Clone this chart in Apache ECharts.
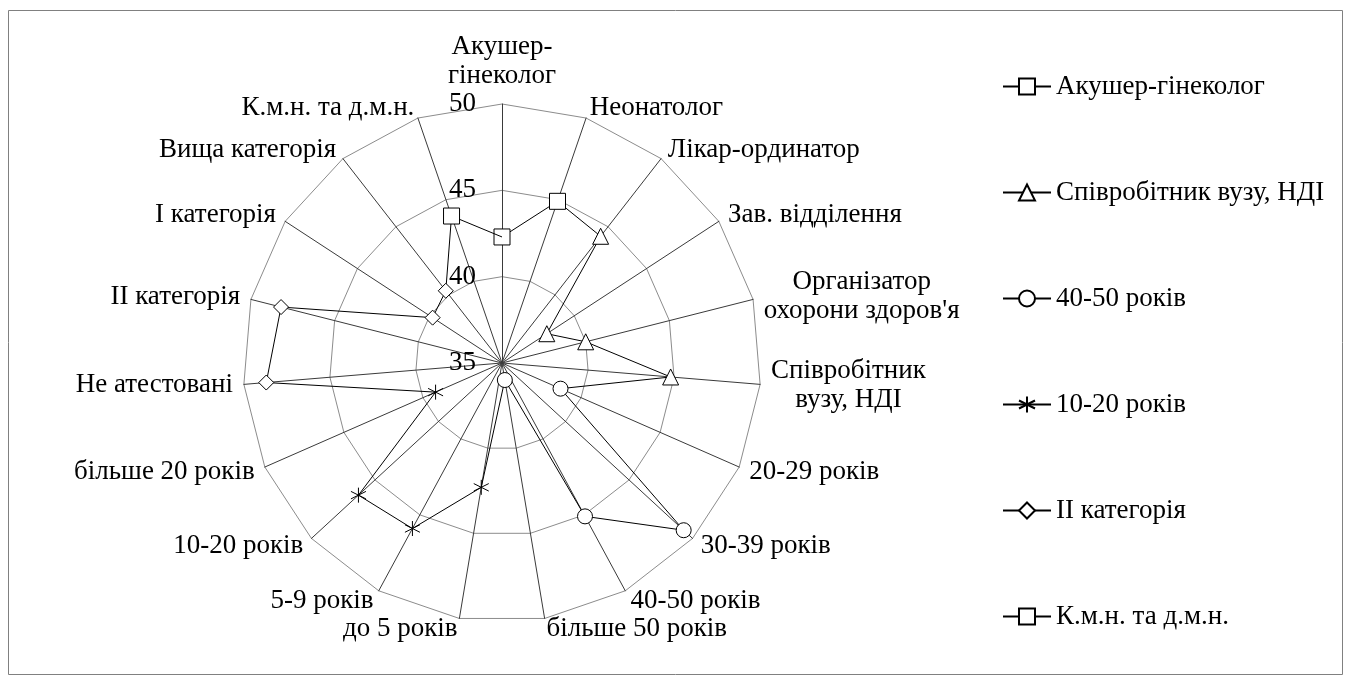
<!DOCTYPE html>
<html><head><meta charset="utf-8">
<script src="https://cdn.jsdelivr.net/npm/echarts@6/dist/echarts.min.js"></script>
<style>html,body{margin:0;padding:0;background:#fff}#chart{width:1351px;height:684px}</style>
</head><body><div id="chart"></div>
<script>
// ---- data ----
const categories = ['Акушер-\nгінеколог', 'Неонатолог', 'Лікар-ординатор', 'Зав. відділення',
  'Організатор\nохорони здоров\'я', 'Співробітник\nвузу, НДІ', '20-29 років', '30-39 років',
  '40-50 років', 'більше 50 років', 'до 5 років', '5-9 років', '10-20 років', 'більше 20 років',
  'Не атестовані', 'II категорія', 'I категорія', 'Вища категорія', 'К.м.н. та д.м.н.'];
const seriesNames = ['Акушер-гінеколог', 'Співробітник вузу, НДІ', '40-50 років', '10-20 років', 'II категорія', 'К.м.н. та д.м.н.'];
const _ = null;
//                 0     1     2     3     4     5     6     7     8     9    10    11    12    13    14    15    16    17    18
const akusher  = [42.3, 44.9,  _,    _,    _,    _,    _,    _,    _,    _,    _,    _,    _,    _,    _,    _,    _,    _,    _  ];
const spivrob  = [ _,    _,   44.3, 38.1, 40.0, 44.8,  _,    _,    _,    _,    _,    _,    _,    _,    _,    _,    _,    _,    _  ];
const vik4050  = [ _,    _,    _,    _,    _,    _,   38.7, 49.3, 45.1, 36.0,  _,    _,    _,    _,    _,    _,    _,    _,    _  ];
const stazh    = [ _,    _,    _,    _,    _,    _,    _,    _,    _,    _,   42.3, 45.9, 46.3, 39.2,  _,    _,    _,    _,    _  ];
const kat2     = [ _,    _,    _,    _,    _,    _,    _,    _,    _,    _,    _,    _,    _,    _,   48.7, 48.2, 39.8, 40.3,  _  ];
const kmn      = [ _,    _,    _,    _,    _,    _,    _,    _,    _,    _,    _,    _,    _,    _,    _,    _,    _,    _,   44.0];
const axisMin = 35, axisMax = 50, axisStep = 5;

// ---- build ----
const allSeries = [akusher, spivrob, vik4050, stazh, kat2, kmn];
const asterisk = 'path://M8,0L8,16M1,4L15,12M1,12L15,4';
const symbols = ['rect', 'triangle', 'circle', asterisk, 'diamond', 'rect'];
const symbolSizes = [16, 16, 15, 15, 15, 16];
const N = categories.length;
const FONT = 'Liberation Serif';
const FS = 27;
const CENTER = [502, 363], RADIUS = 259;

function valueAt(j) {
  for (const s of allSeries) if (s[j] != null) return s[j];
  return null;
}
function buildData(arr) {
  const pts = []; let last = -1;
  arr.forEach((v, i) => { if (v != null) { pts.push({ value: [v, i] }); last = i; } });
  const j = (last + 1) % N;
  const vn = valueAt(j);
  if (vn != null) pts.push({ value: [vn, last + 1], symbol: 'none' });
  return pts;
}
// radar in ECharts runs counter-clockwise: reverse order after the first
const order = [0];
for (let k = N - 1; k >= 1; k--) order.push(k);

const chart = echarts.init(document.getElementById('chart'), null, { renderer: 'canvas' });
chart.setOption({
  animation: false,
  backgroundColor: '#fff',
  graphic: [{
    type: 'rect', silent: true, z: -10,
    shape: { x: 8.5, y: 10.5, width: 1334, height: 664 },
    style: { fill: null, stroke: '#808080', lineWidth: 1 }
  }],
  radar: {
    center: CENTER, radius: RADIUS, startAngle: 90, splitNumber: (axisMax - axisMin) / axisStep,
    shape: 'polygon', nameGap: 11,
    indicator: order.map((ci, k) => {
      const o = { name: categories[ci], min: axisMin, max: axisMax };
      if (k === 0) o.axisLabel = { show: true };
      return o;
    }),
    axisName: {
      color: '#000', fontFamily: FONT, fontSize: FS, lineHeight: 29,
      formatter: v => v.split('\n').map(l => '{c|' + l + '}').join('\n'),
      rich: { c: { align: 'center', color: '#000', fontFamily: FONT, fontSize: FS, lineHeight: 29 } }
    },
    axisLine: { lineStyle: { color: '#3a3a3a', width: 1 } },
    splitLine: { lineStyle: { color: '#8c8c8c', width: 1 } },
    splitArea: { show: false },
    axisTick: { show: false },
    axisLabel: { show: false, color: '#000', fontFamily: FONT, fontSize: FS, margin: 26 }
  },
  polar: { center: CENTER, radius: RADIUS },
  angleAxis: { type: 'value', min: 0, max: N, startAngle: 90, clockwise: true, show: false },
  radiusAxis: { type: 'value', min: axisMin, max: axisMax, show: false },
  legend: {
    orient: 'vertical', left: 997, top: 68, itemWidth: 48, itemHeight: 20, itemGap: 79,
    textStyle: { fontFamily: FONT, fontSize: FS, color: '#000' },
    data: seriesNames
  },
  series: allSeries.map((arr, si) => ({
    type: 'line', name: seriesNames[si], coordinateSystem: 'polar', polarIndex: 0,
    data: buildData(arr), symbol: symbols[si], symbolSize: symbolSizes[si], showSymbol: true,
    lineStyle: { color: '#000', width: 1 },
    itemStyle: { color: '#fff', borderColor: '#000', borderWidth: 1 },
    z: 5 + si
  }))
});
</script>
</body></html>
